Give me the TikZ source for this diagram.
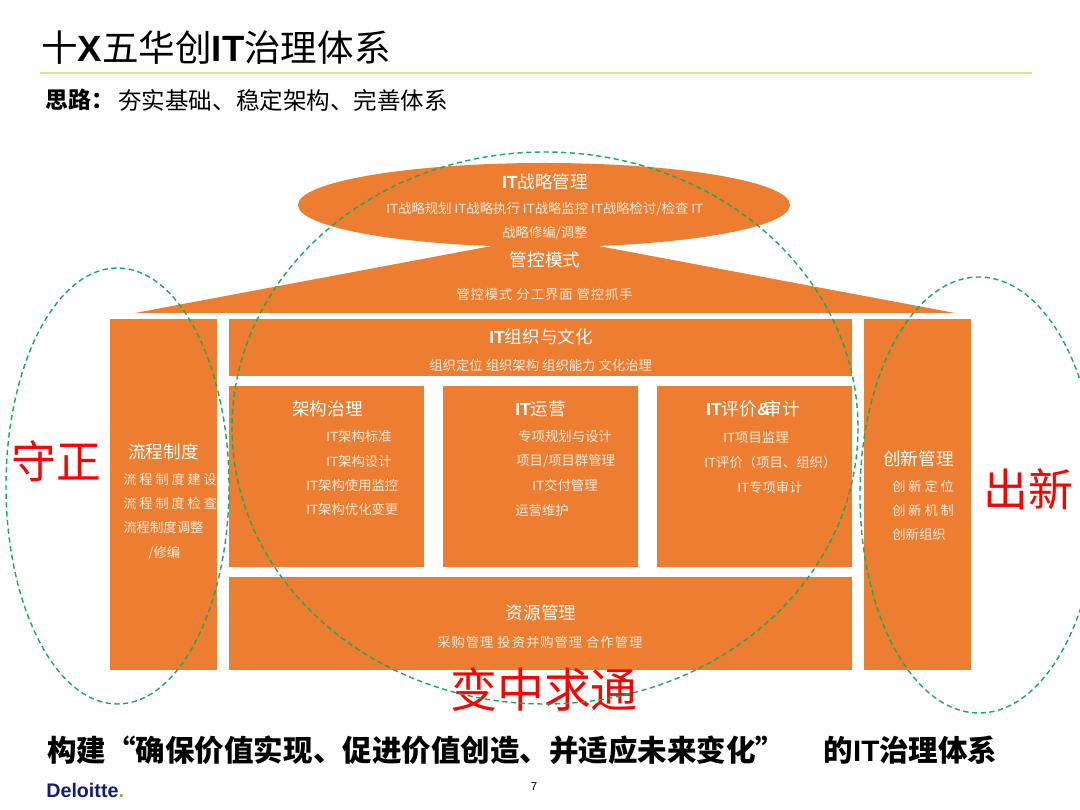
\documentclass[tikz,border=0pt]{standalone}
\usepackage{fontspec}
\setmainfont{Noto Sans CJK SC}
\newfontfamily\latinfont{Liberation Sans}
\usetikzlibrary{positioning}

\definecolor{barorange}{HTML}{ED7D31}
\definecolor{itemcream}{HTML}{FDEBDD}
\definecolor{ringgreen}{HTML}{1BA85F}
\definecolor{ruleyellow}{HTML}{E8DE8C}
\definecolor{dnavy}{HTML}{0F1E6E}
\definecolor{dgreen}{HTML}{86BC25}

\newcommand{\itbold}{{\latinfont\bfseries IT}}
\newcommand{\itthin}{{\latinfont IT}}

\tikzset{
  panel/.style={fill=barorange},
  ring/.style={draw=ringgreen, densely dashed, line width=0.8pt},
  headtext/.style={font=\fontsize{10}{12}\selectfont, text=white, inner sep=0pt},
  itemtext/.style={font=\fontsize{7.6}{9}\selectfont, text=itemcream, inner sep=0pt, anchor=west},
  widetext/.style={font=\fontsize{7.5}{9}\selectfont\addfontfeature{LetterSpace=22}, text=itemcream, inner sep=0pt, anchor=west},
  looseitem/.style={font=\fontsize{7.6}{9}\selectfont\addfontfeature{LetterSpace=7}, text=itemcream, inner sep=0pt, anchor=west},
  mottotext/.style={font=\fontsize{25.5}{28}\selectfont, text=red, inner sep=0pt},
}

\begin{document}
\begin{tikzpicture}[x=0.02cm, y=-0.02cm]
  \clip (0,0) rectangle (1080,810);
  \fill[white] (0,0) rectangle (1080,810);

  % heading
  \node[anchor=west, inner sep=0pt, font=\fontsize{20.8}{24}\selectfont] (title) at (41,48)
    {十{\latinfont\bfseries X}五华创\itbold 治理体系};
  \draw[ruleyellow, line width=0.6pt] (40,73) -- (1032,73);
  \node[anchor=west, inner sep=0pt, font=\fontsize{13}{15}\selectfont\bfseries] (idea) at (45,100) {思路：};
  \node[anchor=west, inner sep=0pt, font=\fontsize{13.4}{15}\selectfont] (ideatext) at (118,100) {夯实基础、稳定架构、完善体系};

  % house
  \fill[panel] (544,205) ellipse [x radius=246, y radius=42];
  \fill[panel] (135,313) -- (955,313) -- (545,236) -- cycle;
  \fill[panel] (110,319) rectangle (217,670);
  \fill[panel] (229,319) rectangle (852,376);
  \fill[panel] (229,386) rectangle (424,567);
  \fill[panel] (443,386) rectangle (638,567);
  \fill[panel] (657,386) rectangle (852,567);
  \fill[panel] (229,577) rectangle (852,670);
  \fill[panel] (864,319) rectangle (971,670);

  \node[headtext] (strategy) at (545,182) {\itbold 战略管理};
  \node[itemtext] (strategya) at (386,209) {\itthin 战略规划 \itthin 战略执行 \itthin 战略监控 \itthin 战略检讨/检查 \itthin};
  \node[itemtext, anchor=center] (strategyb) at (545,233) {战略修编/调整};

  \node[headtext] (control) at (545,260) {管控模式};
  \node[looseitem] (controla) at (456,294) {管控模式 分工界面 管控抓手};

  \node[headtext] (culture) at (541,337) {\itbold 组织与文化};
  \node[itemtext] (culturea) at (429,365) {组织定位 组织架构 组织能力 文化治理};

  \node[headtext, anchor=west] (arch) at (292,409) {架构治理};
  \node[itemtext] (archa) at (326,436) {\itthin 架构标准};
  \node[itemtext] (archb) at (326,461) {\itthin 架构设计};
  \node[itemtext] (archc) at (306,485) {\itthin 架构使用监控};
  \node[itemtext] (archd) at (306,509) {\itthin 架构优化变更};

  \node[headtext, anchor=west] (ops) at (515,409) {\itbold 运营};
  \node[itemtext] (opsa) at (518,436) {专项规划与设计};
  \node[itemtext] (opsb) at (516,461) {项目/项目群管理};
  \node[itemtext] (opsc) at (532,485) {\itthin 交付管理};
  \node[itemtext] (opsd) at (515,510) {运营维护};

  \node[headtext, anchor=west] (audit) at (706,409) {\itbold 评价{\latinfont\bfseries\&}\kern-3pt 审计};
  \node[itemtext] (audita) at (723,437) {\itthin 项目监理};
  \node[itemtext] (auditb) at (704,462) {\itthin 评价（项目、组织）};
  \node[itemtext] (auditc) at (737,487) {\itthin 专项审计};

  \node[headtext, anchor=west] (process) at (128,452) {流程制度};
  \node[widetext] (processa) at (123,479) {流程制度建设};
  \node[widetext] (processb) at (123,503) {流程制度检查};
  \node[itemtext] (processc) at (123,527) {流程制度调整};
  \node[itemtext] (processd) at (148,553) {/修编};

  \node[headtext, anchor=west] (innov) at (883,459) {创新管理};
  \node[widetext] (innova) at (892,486) {创新定位};
  \node[widetext] (innovb) at (892,510) {创新机制};
  \node[itemtext] (innovc) at (892,534) {创新组织};

  \node[headtext] (resource) at (541,613) {资源管理};
  \node[looseitem] (resourcea) at (437,642) {采购管理 投资并购管理 合作管理};

  % mottos
  \node[mottotext] (keep) at (56,461) {守正};
  \node[mottotext] (renew) at (1028,489) {出新};
  \node[mottotext, font=\fontsize{26.7}{30}\selectfont] (change) at (544,690) {变中求通};

  % rings
  \draw[ring] (545,428) ellipse [x radius=313, y radius=276];
  \draw[ring] (117.5,486) ellipse [x radius=111.5, y radius=218];
  \draw[ring] (979,495) ellipse [x radius=119, y radius=218];

  % footer
  \node[anchor=west, inner sep=0pt, font=\fontsize{16.8}{19}\selectfont\bfseries] (aim) at (47,750)
    {构建“确保价值实现、促进价值创造、并适应未来变化”\hspace{1.3em}的\itbold 治理体系};
  \node[anchor=west, inner sep=0pt, font=\fontsize{11.2}{13}\selectfont\latinfont\bfseries, text=dnavy] (brand) at (46,790)
    {Deloitte\textcolor{dgreen}{.}};
  \node[inner sep=0pt, font=\fontsize{6.5}{8}\selectfont\latinfont] (pageno) at (534,787) {7};
\end{tikzpicture}
\end{document}
